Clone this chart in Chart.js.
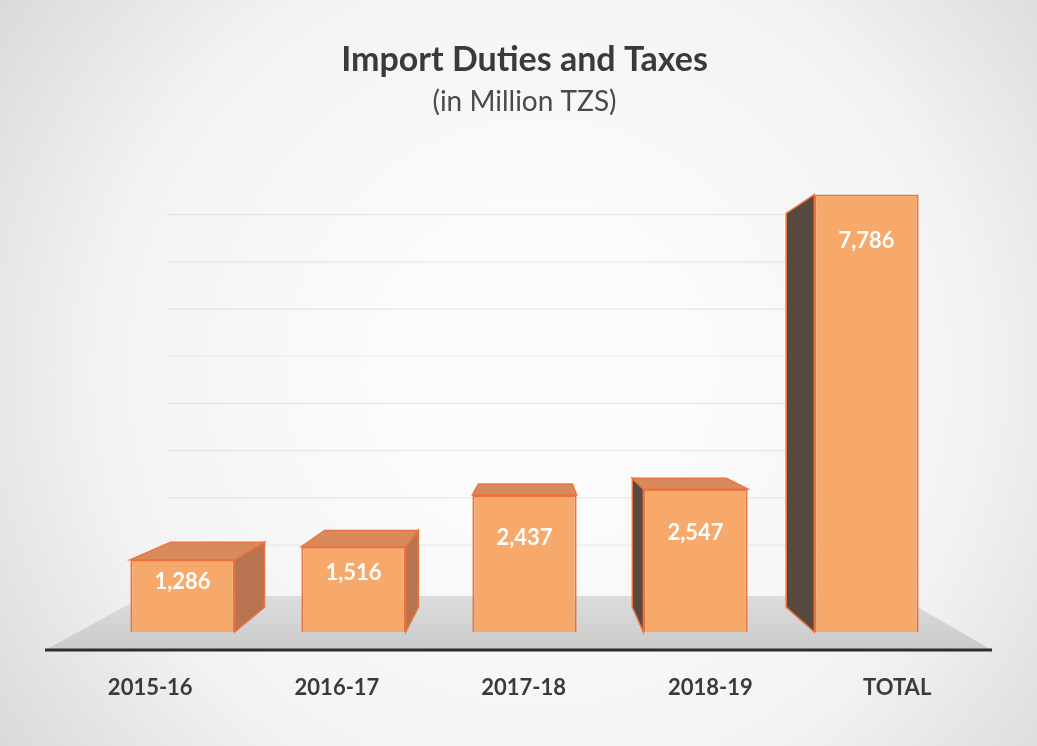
<!DOCTYPE html>
<html>
<head>
<meta charset="utf-8">
<script src="https://cdn.jsdelivr.net/npm/chart.js@4/dist/chart.umd.min.js"></script>
<style>
  html, body { margin: 0; padding: 0; background: #e2e2e2; overflow: hidden; }
  #wrap { width: 1037px; height: 746px; }
</style>
</head>
<body>
<div id="wrap"><canvas id="c" width="1037" height="746"></canvas></div>
<script>
// ---- data ----
const categories = ['2015-16', '2016-17', '2017-18', '2018-19', 'TOTAL'];
const values = [1286, 1516, 2437, 2547, 7786];
const titleText = 'Import Duties and Taxes';
const subtitleText = '(in Million TZS)';
const yMax = 8500;
const gridStep = 1000;

// ---- style ----
const FONT = 'Lato, "Open Sans", sans-serif';
const FRONT = '#f6a96a';
const EDGE = '#ea7440';
const TOP_FACE = '#d98a5c';
const RIGHT_FACE = '#b87450';
const LEFT_FACE = '#574840';
const VPX = 0.51, VPY = 0.48;   // vanishing point as fraction of chart area
const BAR_DEPTH = 0.1;
const FLOOR_DEPTH = 0.2;
const WALL_DEPTH = 0.16;
const LABEL_SPREAD = 0.092;

function vp(chart) {
  const ca = chart.chartArea;
  return { x: ca.left + ca.width * VPX, y: ca.top + ca.height * VPY };
}
function proj(V, x, y, k) {
  return { x: x + (V.x - x) * k, y: y + (V.y - y) * k };
}
function poly(ctx, pts, fill, stroke) {
  ctx.beginPath();
  ctx.moveTo(pts[0].x, pts[0].y);
  for (let i = 1; i < pts.length; i++) ctx.lineTo(pts[i].x, pts[i].y);
  ctx.closePath();
  ctx.fillStyle = fill;
  ctx.fill();
  if (stroke) { ctx.strokeStyle = stroke; ctx.lineWidth = 1.5; ctx.stroke(); }
}

const scenePlugin = {
  id: 'scene',
  beforeDraw(chart) {
    const ctx = chart.ctx;
    const W = chart.width, H = chart.height;
    ctx.save();
    const g = ctx.createRadialGradient(W * 0.52, H * 0.5, 120, W * 0.52, H * 0.5, 690);
    g.addColorStop(0, '#fcfcfc');
    g.addColorStop(0.55, '#f3f3f3');
    g.addColorStop(1, '#d6d6d6');
    ctx.fillStyle = g;
    ctx.fillRect(0, 0, W, H);
    ctx.restore();
  },
  beforeDatasetsDraw(chart) {
    const ctx = chart.ctx;
    const ca = chart.chartArea;
    const V = vp(chart);
    const ys = chart.scales.y;
    const base = ys.getPixelForValue(0);
    ctx.save();
    // floor
    const fy = base + 17;
    const fl = { x: ca.left - 50, y: fy }, fr = { x: ca.right + 38, y: fy };
    const bl = proj(V, fl.x, fl.y, FLOOR_DEPTH), br = proj(V, fr.x, fr.y, FLOOR_DEPTH);
    const fg = ctx.createLinearGradient(0, bl.y, 0, fy);
    fg.addColorStop(0, '#dcdcdc');
    fg.addColorStop(1, '#cbcbcb');
    poly(ctx, [fl, fr, br, bl], fg);
    // back-wall gridlines
    ctx.strokeStyle = 'rgba(0,0,0,0.07)';
    ctx.lineWidth = 1.2;
    for (let v = gridStep; v < yMax; v += gridStep) {
      const y = ys.getPixelForValue(v);
      const a = proj(V, ca.left, y, WALL_DEPTH), b = proj(V, ca.right, y, WALL_DEPTH);
      ctx.beginPath(); ctx.moveTo(a.x, a.y); ctx.lineTo(b.x, b.y); ctx.stroke();
    }
    // axis line
    ctx.strokeStyle = '#2e2e2e';
    ctx.lineWidth = 3;
    ctx.beginPath(); ctx.moveTo(fl.x - 2, fy + 1); ctx.lineTo(fr.x + 2, fy + 1); ctx.stroke();
    // bar depth faces
    const meta = chart.getDatasetMeta(0);
    meta.data.forEach((el) => {
      const p = el.getProps(['x', 'y', 'base', 'width'], true);
      const L = p.x - p.width / 2, R = p.x + p.width / 2, T = p.y, B = p.base;
      const bLT = proj(V, L, T, BAR_DEPTH), bRT = proj(V, R, T, BAR_DEPTH);
      const bLB = proj(V, L, B, BAR_DEPTH), bRB = proj(V, R, B, BAR_DEPTH);
      if (bRT.x > R) poly(ctx, [{ x: R, y: T }, bRT, bRB, { x: R, y: B }], RIGHT_FACE, EDGE);
      if (bLT.x < L) poly(ctx, [{ x: L, y: T }, bLT, bLB, { x: L, y: B }], LEFT_FACE, EDGE);
      if (bLT.y < T) poly(ctx, [{ x: L, y: T }, { x: R, y: T }, bRT, bLT], TOP_FACE, EDGE);
    });
    ctx.restore();
  },
  afterDatasetsDraw(chart) {
    const ctx = chart.ctx;
    const V = vp(chart);
    const meta = chart.getDatasetMeta(0);
    ctx.save();
    ctx.textAlign = 'center';
    ctx.textBaseline = 'middle';
    meta.data.forEach((el, i) => {
      const p = el.getProps(['x', 'y', 'base', 'width'], true);
      const h = p.base - p.y;
      // value label
      ctx.font = 'bold 22px ' + FONT;
      ctx.fillStyle = '#ffffff';
      ctx.fillText(values[i].toLocaleString('en-US'), p.x, p.y + Math.min(h * 0.31, 46));
      // category label on floor front edge
      ctx.font = 'bold 22px ' + FONT;
      ctx.fillStyle = '#3a3a3a';
      const lx = V.x + (p.x - V.x) * (1 + LABEL_SPREAD);
      ctx.fillText(categories[i], lx, p.base + 56);
    });
    ctx.restore();
  }
};

new Chart(document.getElementById('c'), {
  type: 'bar',
  data: {
    labels: categories,
    datasets: [{
      data: values,
      backgroundColor: FRONT,
      borderColor: EDGE,
      borderWidth: 2,
      barPercentage: 0.61,
      categoryPercentage: 1.0
    }]
  },
  options: {
    responsive: false,
    animation: false,
    devicePixelRatio: 1,
    layout: { padding: { left: 97, right: 85, top: 0, bottom: 114 } },
    plugins: {
      legend: { display: false },
      tooltip: { enabled: false },
      title: {
        display: true,
        text: titleText,
        color: '#3a3a3a',
        font: { family: FONT, size: 34, weight: 'bold' },
        padding: { top: 40, bottom: 4 }
      },
      subtitle: {
        display: true,
        text: subtitleText,
        color: '#4a4a4a',
        font: { family: FONT, size: 28, weight: 'normal' },
        padding: { top: 0, bottom: 36 }
      }
    },
    scales: {
      x: { display: false },
      y: { display: false, min: 0, max: yMax, ticks: { stepSize: gridStep } }
    }
  },
  plugins: [scenePlugin]
});
</script>
</body>
</html>
